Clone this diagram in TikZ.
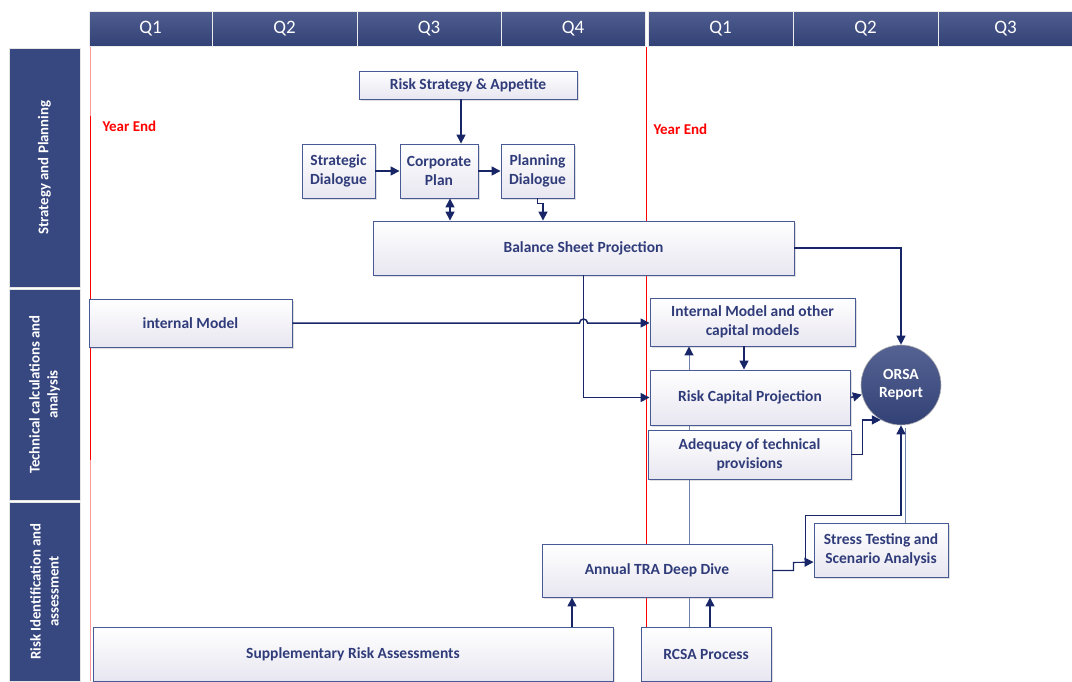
\documentclass[tikz,border=0pt]{standalone}
\usepackage{fontspec}
\setmainfont{Carlito}
\usepackage{tikz}
\usetikzlibrary{arrows.meta,positioning,calc,backgrounds,shadows}

\definecolor{navyfill}{RGB}{55,71,128}
\definecolor{navyline}{RGB}{24,38,104}
\definecolor{boxline}{RGB}{72,90,150}
\definecolor{boxtext}{RGB}{48,60,122}
\definecolor{boxbottom}{RGB}{232,230,240}
\definecolor{slate}{RGB}{112,130,172}

\tikzset{
  qhead/.style={draw=white!85!gray, line width=0.8pt, top color=navyfill!88!white,
    bottom color=navyfill!92!black, text=white, minimum height=35pt,
    font=\fontsize{19}{21}\selectfont},
  lane/.style={draw=white!80!gray, line width=0.8pt, fill=navyfill, text=white,
    rotate=90, align=center, minimum height=71pt,
    font=\fontsize{14.8}{18}\selectfont\bfseries},
  procbox/.style={draw=boxline, line width=0.9pt, top color=white, bottom color=boxbottom,
    text=boxtext, align=center, font=\fontsize{15.5}{19}\selectfont\bfseries,
    drop shadow={shadow xshift=1.5pt, shadow yshift=-1.5pt, opacity=.25, fill=gray}},
  orsanode/.style={circle, draw=gray!60, line width=0.6pt, top color=navyfill!85!white,
    bottom color=navyfill!92!black, text=white, align=center, minimum size=80pt,
    inner sep=0pt, font=\fontsize{15.5}{18}\selectfont\bfseries},
  yearlbl/.style={text=red, anchor=west, font=\fontsize{15}{17}\selectfont\bfseries},
  >={Triangle[length=9pt,width=9pt]},
  conn/.style={draw=navyline, line width=1.5pt, ->},
  thinline/.style={draw=slate, line width=1pt}
}

\begin{document}
\begin{tikzpicture}[x=1pt,y=-1pt]
  \useasboundingbox (0,0) rectangle (1072,681);

  % quarter headers
  \foreach \qname/\cx/\w [count=\i] in {Q1/150.5/123,Q2/284.5/145,Q3/429/144,Q4/573/144,
      Q1/720.5/145,Q2/865.5/145,Q3/1005.5/135}
    \node[qhead, minimum width=\w pt] (q\i) at (\cx,28.5) {\qname};

  % swim lanes
  \foreach \lname/\cy/\h [count=\i] in {{Strategy and Planning}/167.5/239,
      {Technical calculations and\\analysis}/394.5/211,
      {Risk Identification and\\assessment}/591.5/179}
    \node[lane, minimum width=\h pt] (lane\i) at (44.5,\cy) {\lname};

  \node[yearlbl] (ye1) at (99,126) {Year End};
  \node[yearlbl] (ye2) at (650,129) {Year End};

  % process boxes
  \node[procbox, minimum width=218pt, minimum height=28pt] (rsa) at (468,85) {Risk Strategy \& Appetite};
  \node[procbox, minimum width=73pt, minimum height=54pt] (sd) at (338.5,171) {Strategic\\Dialogue};
  \node[procbox, minimum width=78pt, minimum height=54pt] (cp) at (439,171) {Corporate\\Plan};
  \node[procbox, minimum width=73pt, minimum height=54pt] (pd) at (537.5,171) {Planning\\Dialogue};
  \node[procbox, minimum width=421pt, minimum height=54pt] (bsp) at (583.5,248) {Balance Sheet Projection};
  \node[procbox, minimum width=203pt, minimum height=48pt] (im) at (190.5,323) {internal Model};
  \node[procbox, minimum width=205pt, minimum height=48pt] (imo) at (752.5,322) {Internal Model and other\\capital models};
  \node[procbox, minimum width=200pt, minimum height=55pt] (rcp) at (750,397.5) {Risk Capital Projection};
  \node[procbox, minimum width=203pt, minimum height=49pt] (atp) at (749.5,454.5) {Adequacy of technical\\provisions};
  \node[orsanode] (orsa) at (901,385) {ORSA\\Report};
  \node[procbox, minimum width=134pt, minimum height=54pt] (stress) at (881,550) {Stress Testing and\\Scenario Analysis};
  \node[procbox, minimum width=230pt, minimum height=53pt] (tra) at (657,570.5) {Annual TRA Deep Dive};
  \node[procbox, minimum width=520pt, minimum height=54pt] (sra) at (353,654) {Supplementary Risk Assessments};
  \node[procbox, minimum width=130pt, minimum height=54pt] (rcsa) at (706,654) {RCSA Process};

  % helper points
  \coordinate (rsaout) at ($(rsa.south)+(-7,0)$);
  \coordinate (cpout) at ($(cp.south)+(11,0)$);
  \coordinate (pdin) at ($(pd.south)+(5.5,0)$);
  \coordinate (imoout) at ($(imo.south)+(-8.5,0)$);
  \coordinate (rcsaup) at ($(rcsa.north)+(-17,0)$);
  \coordinate (sraout) at ($(sra.north)+(219,0)$);
  \coordinate (rcsaout) at ($(rcsa.north)+(4,0)$);
  \coordinate (stin) at ($(stress.west)+(0,12)$);
  \coordinate (stjoin) at ($(stress.west)+(-8,12)$);
  \coordinate (stup) at ($(stress.north)+(24,0)$);

  % year end lines and feed line behind the boxes
  \begin{scope}[on background layer]
    \draw[red!40, line width=1pt] (90,47) -- (90,681);
    \draw[red, line width=1pt] (90,116) -- (90,460);
    \draw[red, line width=0.8pt] (646,47) -- (646,681);
    \draw[thinline, -{Triangle[length=9pt,width=9pt,color=navyline]}] (rcsaup) -- (rcsaup |- imo.south);
  \end{scope}

  % connectors
  \draw[conn] (rsaout) -- (rsaout |- cp.north);
  \draw[conn] (sd.east) -- (cp.west);
  \draw[conn] (cp.east) -- (pd.west);
  \draw[conn, <->] (cpout) -- (cpout |- bsp.north);
  \draw[conn] (pd.south) -- ++(0,5) -| (pdin |- bsp.north);
  \draw[conn, line width=1.1pt] (bsp.east) -| (orsa.north);
  \draw[conn] (im.east) -- ($(bsp.south |- im.east)+(-4,0)$) arc(180:360:4) -- (imo.west |- im.east);
  \draw[conn] (bsp.south) |- (rcp.west);
  \draw[conn] (imoout) -- (imoout |- rcp.north);
  \draw[conn] (rcp.east) -- (orsa);
  \draw[conn] (atp.east) -- ++(11,0) |- (orsa.240);
  \draw[thinline] (stup) -- ++(0,-95);
  \draw[conn] (stjoin) |- ($(orsa.south)+(0,90)$) -- (orsa.south);
  \draw[conn, line width=1.1pt] (tra.east) -- ++(21,0) -- ++(0,-8) -- (stin);
  \draw[conn] (sraout) -- (sraout |- tra.south);
  \draw[conn] (rcsaout) -- (rcsaout |- tra.south);
\end{tikzpicture}
\end{document}
